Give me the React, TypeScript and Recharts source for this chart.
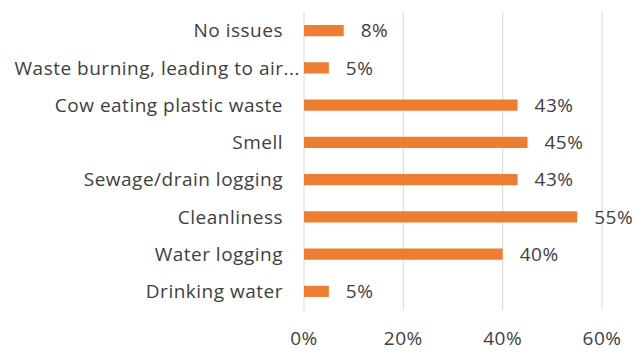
import { Bar, BarChart, CartesianGrid, LabelList, XAxis, YAxis } from "recharts";

const issues = [
  "No issues",
  "Waste burning, leading to air...",
  "Cow eating plastic waste",
  "Smell",
  "Sewage/drain logging",
  "Cleanliness",
  "Water logging",
  "Drinking water",
];
const shares = [8, 5, 43, 45, 43, 55, 40, 5];
const xTicks = [0, 20, 40, 60];

const data = issues.map((name, i) => ({ name, share: shares[i] }));

const FONT = "'Open Sans', sans-serif";
const TEXT = "#404040";
const textStyle = { fill: TEXT, fontSize: 19, fontFamily: FONT, letterSpacing: 0.5 };

// category label; the clipped one runs closer to the axis
const IssueTick = (props: any) => {
  const { x, y, payload } = props;
  const clipped = String(payload.value).endsWith("...");
  return (
    <text
      x={x + (clipped ? 17 : 0)}
      y={y}
      dy="0.35em"
      textAnchor="end"
      {...textStyle}
    >
      {payload.value}
    </text>
  );
};

export default function App() {
  return (
    <div style={{ position: "absolute", left: 0, top: 0 }}>
      <BarChart
        width={636}
        height={352}
        data={data}
        layout="vertical"
        margin={{ top: 12, right: 34, bottom: 0, left: 0 }}
        barCategoryGap="65%"
      >
        <CartesianGrid horizontal={false} stroke="#d9d9d9" />
        <XAxis
          type="number"
          domain={[0, 60]}
          ticks={xTicks}
          tickFormatter={(v) => `${v}%`}
          axisLine={false}
          tickLine={false}
          tickSize={0}
          tickMargin={22}
          height={42}
          tick={textStyle}
        />
        <YAxis
          type="category"
          dataKey="name"
          width={304}
          axisLine={false}
          tickLine={false}
          tickSize={0}
          tickMargin={21}
          interval={0}
          tick={<IssueTick />}
        />
        <Bar dataKey="share" fill="#ED7D31" isAnimationActive={false}>
          <LabelList
            dataKey="share"
            position="right"
            offset={17}
            formatter={(v: number) => `${v}%`}
            {...textStyle}
          />
        </Bar>
      </BarChart>
    </div>
  );
}
